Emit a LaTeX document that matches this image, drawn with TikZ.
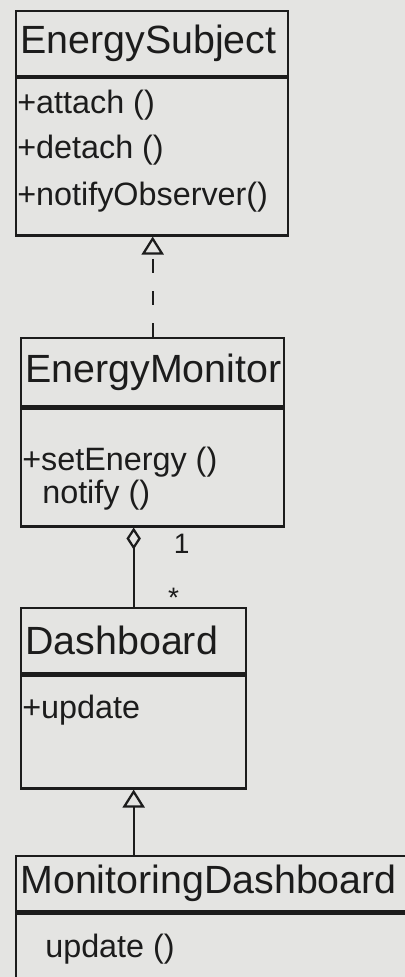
\documentclass[tikz,border=0pt]{standalone}
\usepackage{fontspec}
\setmainfont{Liberation Sans}
\usetikzlibrary{positioning,arrows.meta}
\definecolor{paper}{RGB}{228,228,226}
\definecolor{ink}{RGB}{28,28,28}
\tikzset{
    classname/.style={
    rectangle,draw=ink,line width=1.6pt,anchor=north west,align=left,inner sep=3pt,text=ink,font=\fontsize{28}{32}\selectfont
    },
    classbody/.style={
    rectangle,draw=ink,line width=1.6pt,inner sep=0pt
    },
    method/.style={anchor=west,inner sep=0pt,text=ink,font=\fontsize{23}{27}\selectfont},
    mult/.style={inner sep=0pt,text=ink,font=\fontsize{20}{24}\selectfont},
  realize/.style={draw=ink, line width=1.6pt, dash pattern=on 0.35cm off 0.45cm, -{Triangle[open,length=0.45cm,width=0.55cm]}},
  inherit/.style={draw=ink, line width=1.6pt, -{Triangle[open,length=0.45cm,width=0.55cm]}},
  aggreg/.style={draw=ink, line width=1.6pt, -{Diamond[open,length=0.55cm,width=0.36cm]}}
}
\begin{document}
\begin{tikzpicture}[x=0.025cm,y=0.025cm]
    \clip (0,0) rectangle (405,977);
    \fill[paper] (0,0) rectangle (405,977);

    % EnergySubject
    \node[classname,minimum width=6.8cm,minimum height=1.625cm,text width=6.59cm] (esname) at (15,967) {EnergySubject};
    \node[classbody,below=0pt of esname.south west,anchor=north west,minimum width=6.8cm,minimum height=3.925cm] (esbody) {};
    \node[method] (attach) at ([xshift=0.05cm,yshift=-0.7cm]esbody.north west) {+attach ()};
    \node[method] (detach) at ([xshift=0.05cm,yshift=-1.825cm]esbody.north west) {+detach ()};
    \node[method] (notifyobs) at ([xshift=0.05cm,yshift=-3.0cm]esbody.north west) {+notifyObserver()};

    % EnergyMonitor
    \node[classname,minimum width=6.575cm,minimum height=1.7cm,text width=6.365cm] (emname) at (20,640) {EnergyMonitor};
    \node[classbody,below=0pt of emname.south west,anchor=north west,minimum width=6.575cm,minimum height=2.95cm] (embody) {};
    \node[method] (setenergy) at ([xshift=0.05cm,yshift=-1.375cm]embody.north west) {+setEnergy ()};
    \node[method] (notify) at ([xshift=0.55cm,yshift=-2.2cm]embody.north west) {notify ()};

    % Dashboard
    \node[classname,minimum width=5.625cm,minimum height=1.625cm,text width=5.415cm] (dbname) at (20,370) {Dashboard};
    \node[classbody,below=0pt of dbname.south west,anchor=north west,minimum width=5.625cm,minimum height=2.825cm] (dbbody) {};
    \node[method] (update) at ([xshift=0.05cm,yshift=-0.9cm]dbbody.north west) {+update};

    % MonitoringDashboard
    \node[classname,minimum width=9.875cm,minimum height=1.375cm,text width=9.665cm] (mdname) at (15,122) {MonitoringDashboard};
    \node[classbody,below=0pt of mdname.south west,anchor=north west,minimum width=9.875cm,minimum height=2cm] (mdbody) {};
    \node[method] (mdupdate) at ([xshift=0.75cm,yshift=-0.925cm]mdbody.north west) {update ()};

    % relations
    \path[realize] (emname.north) -- (emname.north |- esbody.south);
    \path[aggreg] (dbname.north) -- node[mult,pos=0.12,xshift=1cm] (many) {*} node[mult,pos=0.8,xshift=1.2cm] (one) {1} (dbname.north |- embody.south);
    \path[inherit] (mdname.north -| dbbody.south) -- (dbbody.south);

  \end{tikzpicture}
\end{document}
